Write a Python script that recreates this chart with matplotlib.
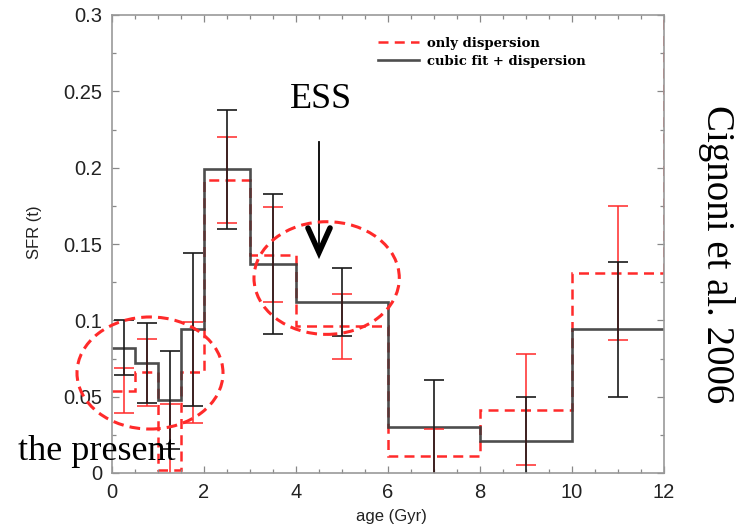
import numpy as np
import matplotlib
matplotlib.use("Agg")
import matplotlib.pyplot as plt
from matplotlib.patches import Ellipse

# age bins (Gyr) and SFR from the two recoveries
age_edges = [0, 0.5, 1, 1.5, 2, 3, 4, 6, 8, 10, 12]
sfr_cubic = [0.082, 0.072, 0.048, 0.094, 0.199, 0.137, 0.112, 0.030, 0.021, 0.094]
err_cubic = [0.018, 0.026, 0.032, 0.050, 0.039, 0.046, 0.0225, 0.031, 0.0285, 0.0444]
sfr_disp = [0.054, 0.066, 0.002, 0.066, 0.192, 0.143, 0.096, 0.011, 0.0415, 0.131]
err_disp = [0.0145, 0.022, 0.043, 0.033, 0.028, 0.031, 0.0215, 0.018, 0.0365, 0.0437]

xticks = [0, 2, 4, 6, 8, 10, 12]
yticks = [0, 0.05, 0.1, 0.15, 0.2, 0.25, 0.3]
ytick_labels = ["0", "0.05", "0.1", "0.15", "0.2", "0.25", "0.3"]

RED = "#ff2a2a"
DARK = "#3a3a3a"
SANS = "Liberation Sans"
SERIF = "Liberation Serif"

edges = np.array(age_edges)
centers = 0.5 * (edges[:-1] + edges[1:])

fig = plt.figure(figsize=(7.42, 5.30), dpi=100)
ax = fig.add_axes([112 / 742, 57 / 530, 552 / 742, 458 / 530])

# only dispersion (dashed red)
ax.stairs(sfr_disp, edges, baseline=None, color=RED, lw=1.8, ls=(0, (4, 2.5)),
          label="only dispersion")
ax.vlines(edges[-1], sfr_disp[-1], yticks[-1], color=RED, lw=1.8, ls=(0, (4, 2.5)))
ax.errorbar(centers, sfr_disp, yerr=err_disp, fmt="none", ecolor=RED, elinewidth=1.3,
            capsize=7, capthick=1.3, alpha=0.85)

# cubic fit + dispersion (solid dark)
ax.stairs(sfr_cubic, edges, baseline=None, color=DARK, lw=1.9, alpha=0.9,
          label="cubic fit + dispersion")
ax.errorbar(centers, sfr_cubic, yerr=err_cubic, fmt="none", ecolor="#1a1a1a",
            elinewidth=1.2, capsize=7, capthick=1.2)

ax.set_xlim(0, 12)
ax.set_ylim(0, 0.3)
ax.set_xticks(xticks)
ax.set_xticklabels([str(t) for t in xticks])
ax.set_yticks(yticks)
ax.set_yticklabels(ytick_labels)
ax.set_xticks(np.arange(0, 12.01, 0.5), minor=True)
ax.set_yticks(np.arange(0, 0.301, 0.025), minor=True)
ax.tick_params(which="both", direction="in", top=True, right=True, colors="#888888",
               labelcolor="#222222", width=0.9)
ax.tick_params(which="major", length=5, labelsize=14.5, pad=7)
ax.tick_params(which="minor", length=3)
for lab in ax.get_xticklabels() + ax.get_yticklabels():
    lab.set_family(SANS)
for sp in ax.spines.values():
    sp.set_color("#999999")
    sp.set_linewidth(1.2)

ax.set_ylabel("SFR (t)", fontsize=12, family=SANS, color="#222222")
ax.yaxis.set_label_coords(-0.127, 0.526)
ax.set_xlabel("age (Gyr)", fontsize=12, family=SANS, color="#222222")
ax.xaxis.set_label_coords(0.507, -0.078)

leg = ax.legend(loc="upper left", bbox_to_anchor=(378 / 742, 1 - 37 / 530),
                bbox_transform=fig.transFigure, frameon=False, borderpad=0,
                borderaxespad=0, handlelength=3.1, handletextpad=0.6,
                labelspacing=0.35, prop={"family": "DejaVu Serif", "weight": "bold", "size": 9.5})

# highlighted regions
for (cx, cy, w, h) in [(0.826, 0.0655, 3.174, 0.0734), (4.666, 0.1277, 3.159, 0.0738)]:
    ax.add_patch(Ellipse((cx, cy), w, h, fill=False, ec=RED, lw=2.2,
                         ls=(0, (3.5, 2)), clip_on=False, zorder=5))

# ESS marker
ax.text(4.54, 0.239, "ESS", family=SERIF, fontsize=26, ha="center", va="baseline")
ax.plot([4.5, 4.5], [0.217, 0.1445], color="black", lw=1.3)
ax.plot([4.26, 4.5, 4.74], [0.1605, 0.1445, 0.1605], color="black", lw=4,
        solid_capstyle="round", solid_joinstyle="miter")

fig.text(18 / 742, (530 - 460) / 530, "the present", family=SERIF, fontsize=26,
         ha="left", va="baseline")
fig.text(717 / 742, 1 - 254 / 530, "Cignoni et al. 2006", family=SERIF, fontsize=28,
         rotation=-90, ha="center", va="center")

fig.savefig("out.png", dpi=100)
